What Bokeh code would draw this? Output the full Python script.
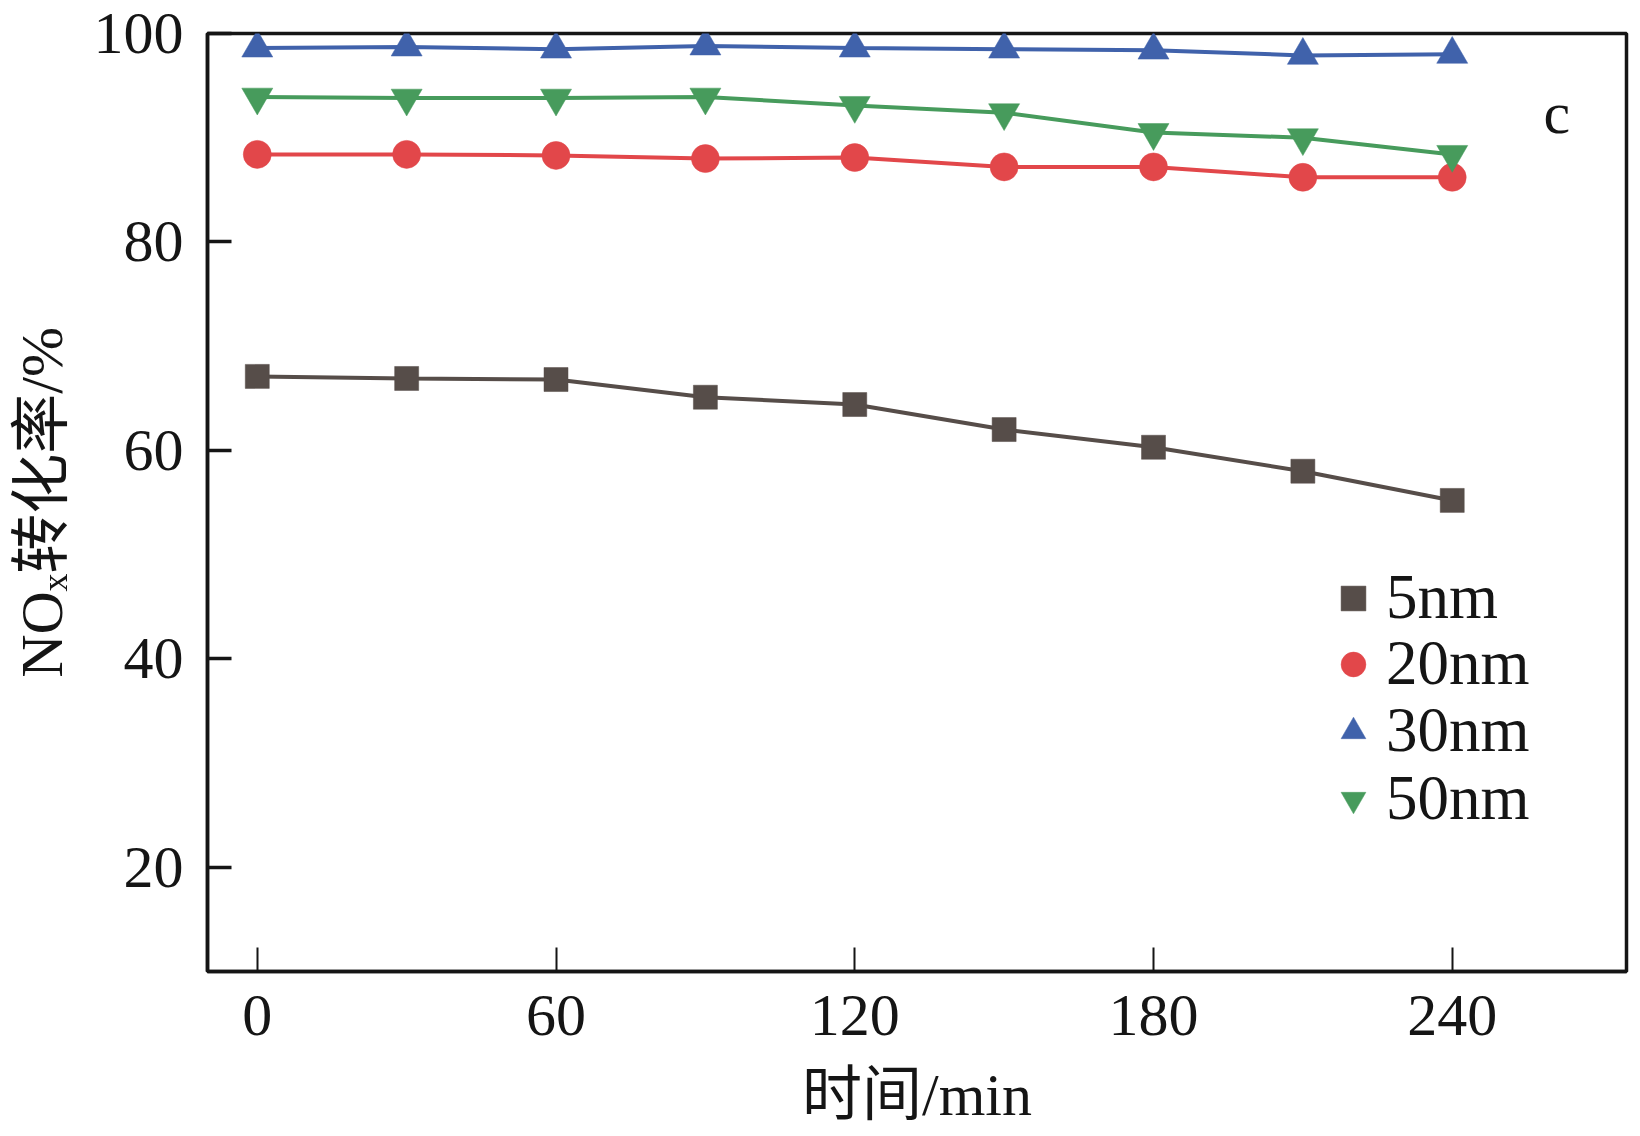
from bokeh.plotting import figure
from bokeh.models import Range1d, Legend, LegendItem, Label, FixedTicker
from bokeh.embed import file_html
from bokeh.resources import INLINE

# ---- data ----
time_min = [0, 30, 60, 90, 120, 150, 180, 210, 240]
series_names = ["5nm", "20nm", "30nm", "50nm"]
nm5 = [67.1, 66.9, 66.8, 65.1, 64.4, 62.0, 60.3, 58.0, 55.2]
nm20 = [88.4, 88.4, 88.3, 88.0, 88.1, 87.2, 87.2, 86.2, 86.2]
nm30 = [98.6, 98.7, 98.5, 98.8, 98.6, 98.5, 98.4, 97.9, 98.0]
nm50 = [93.9, 93.8, 93.8, 93.9, 93.1, 92.4, 90.5, 90.0, 88.4]
x_ticks = [0, 60, 120, 180, 240]
y_ticks = [20, 40, 60, 80, 100]
panel_label = "c"

colors = ["#564d49", "#e2474a", "#4062ab", "#479b5c"]
markers = ["square", "circle", "triangle", "inverted_triangle"]
sizes = [24, 28, 31, 31]

SERIF = "Liberation Serif"

p = figure(width=1632, height=1130, output_backend="svg", toolbar_location=None,
           x_range=Range1d(-10, 275), y_range=Range1d(10, 100),
           min_border_left=207, min_border_right=6, min_border_top=33, min_border_bottom=157)
p.grid.visible = False
p.background_fill_color = "white"
p.border_fill_color = "white"
p.outline_line_color = "#151515"
p.outline_line_width = 3.5

for ax in (p.xaxis[0], p.yaxis[0]):
    ax.axis_line_width = 3.5
    ax.axis_line_color = "#151515"
    ax.major_tick_in = 24
    ax.major_tick_out = 0
    ax.minor_tick_line_color = None
    ax.major_tick_line_color = "#151515"
    ax.major_label_text_font = SERIF
    ax.major_label_text_font_size = "60px"
    ax.major_label_text_color = "#151515"
    ax.axis_label_text_font = "Liberation Serif, Noto Sans CJK SC"
    ax.axis_label_text_font_size = "60px"
    ax.axis_label_text_font_style = "normal"
    ax.axis_label_text_color = "#151515"

p.xaxis.ticker = FixedTicker(ticks=x_ticks)
p.yaxis.ticker = FixedTicker(ticks=y_ticks)
p.xaxis.major_tick_line_width = 2
p.yaxis.major_tick_line_width = 3.5
p.xaxis.major_label_standoff = 24
p.yaxis.major_label_standoff = 24
p.xaxis.axis_label = "时间/min"
p.yaxis.axis_label = "NOₓ转化率/%"
p.xaxis.axis_label_standoff = 24
p.yaxis.axis_label_standoff = 16

# one single-item legend per series so each row sits at its own height
legend_y = [337, 271, 204, 136]
for name, vals, c, m, s, ly in zip(series_names, [nm5, nm20, nm30, nm50], colors, markers, sizes, legend_y):
    p.line(time_min, vals, line_color=c, line_width=4)
    r = p.scatter(time_min, vals, marker=m, size=s, fill_color=c, line_color=c, line_width=0.5)
    lg = Legend(items=[LegendItem(label=name, renderers=[r])], location=(1115, ly),
                glyph_width=62, glyph_height=62, label_standoff=2, spacing=0,
                padding=0, margin=0, border_line_color=None, background_fill_alpha=0,
                label_text_font=SERIF, label_text_font_size="63px", label_text_color="#151515")
    p.add_layout(lg)

p.add_layout(Label(x=261, y=92.4, text=panel_label, text_align="center",
                   text_baseline="alphabetic", text_font=SERIF, text_font_size="60px",
                   text_color="#151515"))

open("out.html", "w").write(file_html(p, INLINE))
